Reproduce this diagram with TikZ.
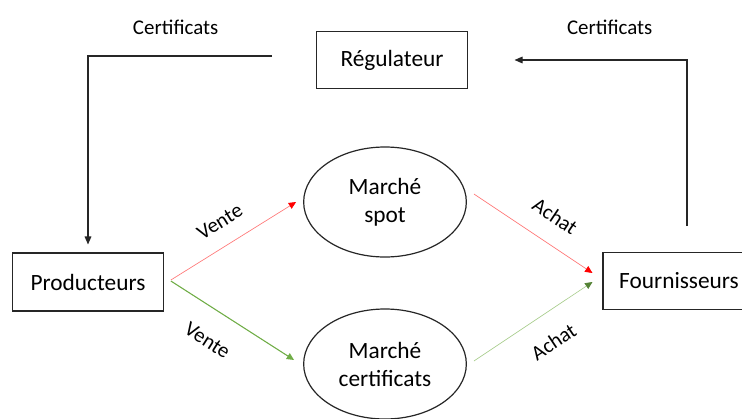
\documentclass[tikz,border=0pt]{standalone}
\usepackage{fontspec}
\setmainfont{Carlito}
\usetikzlibrary{positioning}
\usetikzlibrary{shapes}
\usetikzlibrary{arrows.meta}
\definecolor{rouge}{RGB}{255,0,0}
\definecolor{rougeclair}{RGB}{255,120,120}
\definecolor{vert}{RGB}{112,173,71}
\definecolor{vertclair}{RGB}{169,205,142}
\definecolor{vertfonce}{RGB}{84,130,53}
\definecolor{trait}{RGB}{38,38,38}

\begin{document}
\begin{tikzpicture}[x=0.75pt,y=-0.75pt]
	\tikzstyle{boite}=[rectangle, draw=trait, line width=0.8pt, minimum width=113pt, minimum height=42.5pt, font=\fontsize{17.5}{21}\selectfont]
	\tikzstyle{marche}=[ellipse, draw=trait, line width=0.9pt, minimum width=122pt, minimum height=82.5pt, inner sep=0pt, align=center, font=\fontsize{17.5}{21}\selectfont]
	\tikzstyle{lbl}=[font=\fontsize{15.7}{19}\selectfont]
	\tikzstyle{fleche}=[-{Triangle[length=6pt,width=5pt]}, line width=0.8pt, draw=trait]
	\tikzstyle{flrouge}=[-{Triangle[length=5.5pt,width=5pt,color=rouge]}, line width=0.5pt, draw=rougeclair]
	
	\clip (0,0) rectangle (742,418);
	
	\node at (392,60) [boite] (reg) {Régulateur};
	\node at (88,282) [boite, minimum height=43.5pt] (prod) {Producteurs};
	\node at (679,281) [boite, minimum width=114pt] (four) {Fournisseurs};
	
	\node at (385,202) [marche] (spot) {Marché\\spot};
	\node at (385,364) [marche] (cert) {Marché\\certificats};
	
	% certificats
	\draw [fleche] ([shift={(-44,-4)}]reg.west) -| node[lbl, pos=0.262, above=12pt]{Certificats} ([shift={(0,-8)}]prod.north);
	\draw [fleche] ([shift={(8,-26)}]four.north) |- node[lbl, pos=0.724, above=15pt]{Certificats} ([xshift=35pt]reg.east);
	
	% vente
	\draw [flrouge] ([shift={(7,-2)}]prod.east) to node[lbl, sloped, pos=0.49, above=9pt]{Vente} ([shift={(-7,0)}]spot.west);
	\draw [-{Triangle[length=5.5pt,width=5pt]}, line width=0.8pt, draw=vert, fill=vert] ([shift={(7,-1)}]prod.east) to node[lbl, sloped, pos=0.43, below=14pt]{Vente} ([shift={(-9,-4)}]cert.west);
	
	% achat
	\draw [flrouge] ([shift={(7,-8)}]spot.east) to node[lbl, sloped, pos=0.56, above=11pt]{Achat} ([shift={(-10,-8)}]four.west);
	\draw [-{Triangle[length=5.5pt,width=5pt,color=vertfonce]}, line width=0.5pt, draw=vertclair] ([shift={(7,-3)}]cert.east) to node[lbl, sloped, pos=0.54, below=12pt]{Achat} ([shift={(-10,1)}]four.west);
\end{tikzpicture}
\end{document}
